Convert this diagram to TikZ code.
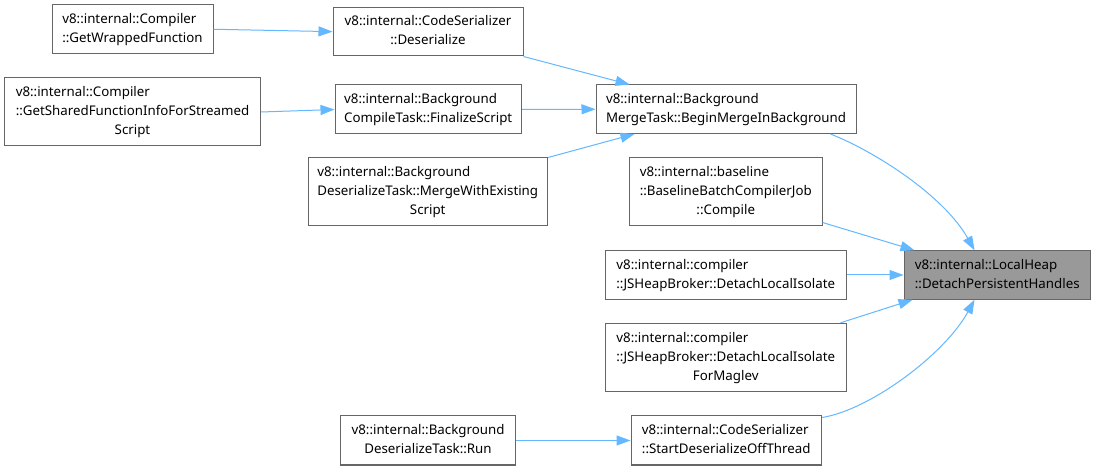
\documentclass[tikz,border=0pt]{standalone}
\usepackage{fontspec}
\setmainfont{Noto Sans}
\usetikzlibrary{arrows.meta,calc}
\definecolor{edgeblue}{HTML}{63B8FF}
\definecolor{boxline}{HTML}{666666}
\definecolor{hifill}{HTML}{999999}
\newcommand{\lbl}[2]{\begin{tabular}{@{}l@{}}#1\\\multicolumn{1}{@{}c@{}}{#2}\end{tabular}}
\tikzset{
  fn/.style={draw=boxline, line width=1pt, fill=white, rectangle, inner sep=0pt,
    font=\fontsize{13.3}{19}\selectfont, text=black},
  hi/.style={fn, fill=hifill},
  call/.style={draw=edgeblue, line width=1pt, -{Triangle[length=14pt,width=10pt,fill=edgeblue]}}
}
\begin{document}
\begin{tikzpicture}[x=1pt,y=-1pt]
\useasboundingbox[fill=white] (0,0) rectangle (1096,470);
\node[fn, minimum width=161pt, minimum height=48.5pt] (A) at (132.5,29.25)
  {\lbl{v8::internal::Compiler}{::GetWrappedFunction}};
\node[fn, minimum width=190pt, minimum height=48.7pt] (B) at (428,31.65)
  {\lbl{v8::internal::CodeSerializer}{::Deserialize}};
\node[fn, minimum width=256pt, minimum height=68pt] (C) at (132.5,112)
  {\lbl{v8::internal::Compiler\\::GetSharedFunctionInfoForStreamed}{Script}};
\node[fn, minimum width=186.5pt, minimum height=49pt] (D) at (428.25,109.5)
  {\lbl{v8::internal::Background}{CompileTask::FinalizeScript}};
\node[fn, minimum width=239.5pt, minimum height=68pt] (E) at (427.75,192)
  {\lbl{v8::internal::Background\\DeserializeTask::MergeWithExisting}{Script}};
\node[fn, minimum width=260pt, minimum height=48.5pt] (F) at (726,109.25)
  {\lbl{v8::internal::Background}{MergeTask::BeginMergeInBackground}};
\node[fn, minimum width=192.5pt, minimum height=68pt] (G) at (725.75,192)
  {\lbl{v8::internal::baseline\\::BaselineBatchCompilerJob}{::Compile}};
\node[fn, minimum width=241.5pt, minimum height=48.5pt] (H) at (725.75,275)
  {\lbl{v8::internal::compiler}{::JSHeapBroker::DetachLocalIsolate}};
\node[fn, minimum width=241.5pt, minimum height=68.2pt] (I) at (725.75,357.4)
  {\lbl{v8::internal::compiler\\::JSHeapBroker::DetachLocalIsolate}{ForMaglev}};
\node[fn, minimum width=190.5pt, minimum height=49pt] (J) at (726.25,440.5)
  {\lbl{v8::internal::CodeSerializer}{::StartDeserializeOffThread}};
\node[fn, minimum width=175pt, minimum height=49pt] (K) at (428,440.5)
  {\lbl{v8::internal::Background}{DeserializeTask::Run}};
\node[hi, minimum width=186.5pt, minimum height=48.5pt] (T) at (997.25,275)
  {\lbl{v8::internal::LocalHeap}{::DetachPersistentHandles}};

\draw[call] (A.east) -- (B.west);
\draw[call] (B.south east) -- ($(F.north west)+(34,0)$);
\draw[call] (C.east) -- (D.west);
\draw[call] (D.east) -- (F.west);
\draw[call] (E.north east) -- ($(F.south west)+(39,0)$);
\draw[call] ($(F.south east)+(-26,0)$) .. controls (876,152) and (944,196) .. ($(T.north west)+(71,0)$);
\draw[call] ($(G.south east)+(0,-4)$) -- ($(T.north west)+(11,0)$);
\draw[call] (H.east) -- (T.west);
\draw[call] ($(I.north east)+(-6.5,0)$) -- ($(T.south west)+(9,0)$);
\draw[call] ($(J.north east)+(0,2)$) .. controls (870,410) and (945,354) .. ($(T.south west)+(71,0)$);
\draw[call] (K.east) -- (J.west);
\end{tikzpicture}
\end{document}
